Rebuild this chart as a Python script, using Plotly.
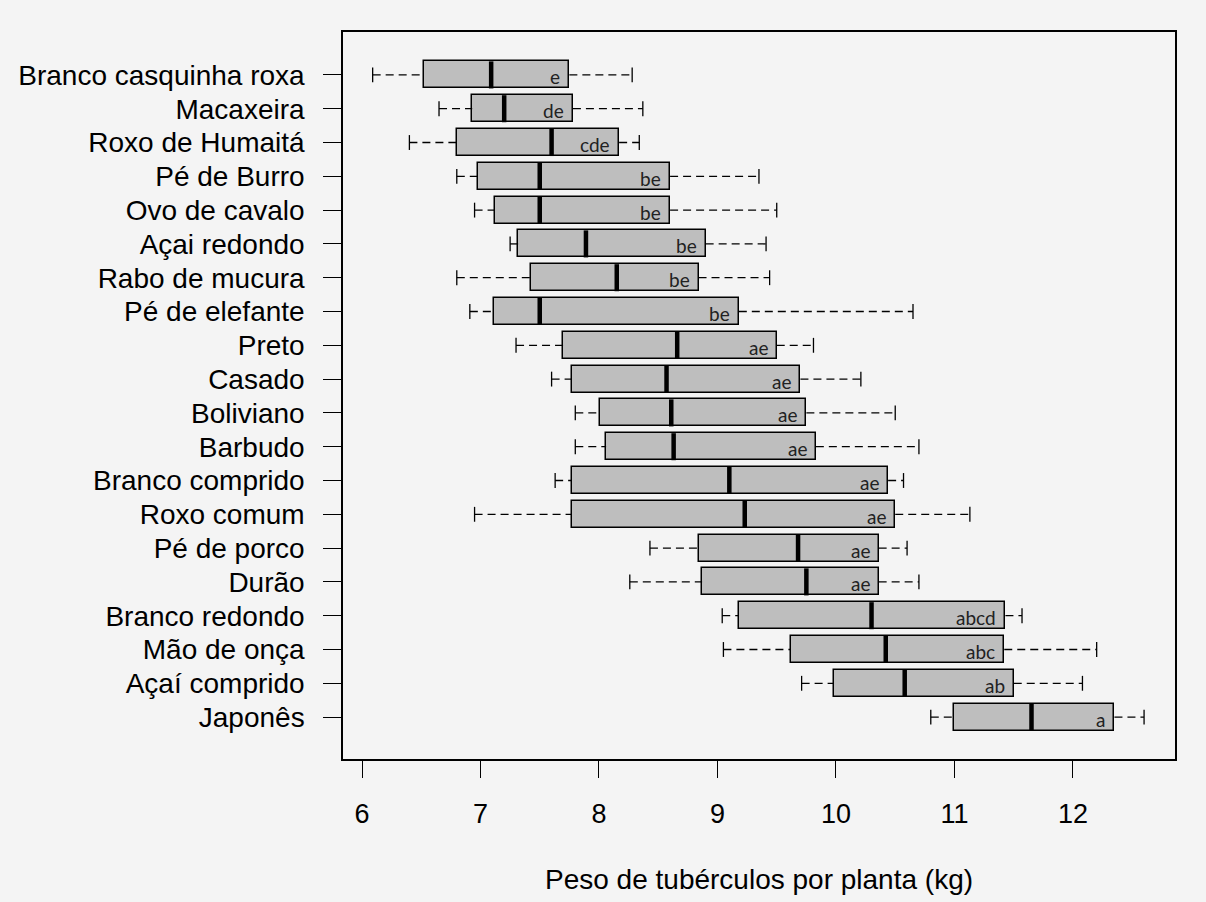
import plotly.graph_objects as go

# Cultivares (de cima para baixo) e resumo de cinco números do peso de tubérculos (kg/planta)
cultivares = [
    "Branco casquinha roxa", "Macaxeira", "Roxo de Humaitá", "Pé de Burro",
    "Ovo de cavalo", "Açai redondo", "Rabo de mucura", "Pé de elefante",
    "Preto", "Casado", "Boliviano", "Barbudo", "Branco comprido", "Roxo comum",
    "Pé de porco", "Durão", "Branco redondo", "Mão de onça", "Açaí comprido",
    "Japonês",
]
minimo = [6.09, 6.65, 6.40, 6.80, 6.95, 7.25, 6.80, 6.91, 7.30, 7.60,
          7.80, 7.80, 7.63, 6.95, 8.43, 8.26, 9.04, 9.05, 9.71, 10.80]
q1 = [6.52, 6.93, 6.80, 6.98, 7.12, 7.32, 7.43, 7.11, 7.70, 7.77,
      8.01, 8.06, 7.77, 7.77, 8.84, 8.87, 9.18, 9.62, 9.98, 11.00]
mediana = [7.09, 7.20, 7.60, 7.50, 7.50, 7.89, 8.15, 7.50, 8.66, 8.57,
           8.61, 8.63, 9.10, 9.23, 9.68, 9.75, 10.30, 10.42, 10.58, 11.65]
q3 = [7.75, 7.78, 8.17, 8.60, 8.60, 8.90, 8.84, 9.18, 9.50, 9.70,
      9.75, 9.83, 10.44, 10.50, 10.36, 10.36, 11.43, 11.42, 11.50, 12.35]
maximo = [8.28, 8.37, 8.34, 9.35, 9.50, 9.41, 9.44, 10.65, 9.81, 10.21,
          10.50, 10.70, 10.57, 11.13, 10.60, 10.70, 11.57, 12.20, 12.08, 12.60]
letras = ["e", "de", "cde", "be", "be", "be", "be", "be", "ae", "ae",
          "ae", "ae", "ae", "ae", "ae", "ae", "abcd", "abc", "ab", "a"]
ticks_x = [6, 7, 8, 9, 10, 11, 12]
titulo_x = "Peso de tubérculos por planta (kg)"

pos = list(range(len(cultivares)))
BOX_W = 0.8
CAP_H = 0.22
FONT = "Liberation Sans, Arial, Helvetica, sans-serif"
BG = "#f4f4f4"

# whiskers (dashed) from the extremes to the box
wx, wy = [], []
for i in pos:
    wx += [minimo[i], q1[i], None, q3[i], maximo[i], None]
    wy += [i, i, None, i, i, None]

# whisker caps
cx, cy = [], []
for i in pos:
    cx += [minimo[i], minimo[i], None, maximo[i], maximo[i], None]
    cy += [i - CAP_H, i + CAP_H, None, i - CAP_H, i + CAP_H, None]

# median bars
mx, my = [], []
for i in pos:
    mx += [mediana[i], mediana[i], None]
    my += [i - BOX_W / 2, i + BOX_W / 2, None]

fig = go.Figure()
fig.add_trace(go.Scatter(x=wx, y=wy, mode="lines", hoverinfo="skip",
                         line=dict(color="black", width=1.3, dash="8px,5px")))
fig.add_trace(go.Scatter(x=cx, y=cy, mode="lines", hoverinfo="skip",
                         line=dict(color="black", width=1.3)))
fig.add_trace(go.Bar(
    y=pos, x=[b - a for a, b in zip(q1, q3)], base=q1, orientation="h",
    width=BOX_W, marker=dict(color="#bebebe", line=dict(color="black", width=1.5)),
))
fig.add_trace(go.Scatter(x=mx, y=my, mode="lines", hoverinfo="skip",
                         line=dict(color="black", width=4.5)))

for i in pos:
    fig.add_annotation(x=q3[i], y=i, text=letras[i], showarrow=False,
                       xanchor="right", yanchor="middle", xshift=-7, yshift=-2,
                       font=dict(family="Lato, Open Sans, sans-serif", size=19,
                                 color="#222222"))

fig.add_annotation(x=0.5, y=-0.1664, xref="paper", yref="paper",
                   text=titulo_x, showarrow=False, xanchor="center",
                   yanchor="middle", font=dict(family=FONT, size=28, color="black"))

fig.update_layout(
    width=1206, height=902,
    margin=dict(l=343, r=31, t=32, b=143),
    paper_bgcolor=BG, plot_bgcolor=BG,
    showlegend=False, bargap=0,
    xaxis=dict(range=[5.8397, 12.861], tickvals=ticks_x, ticks="outside",
               ticklen=17, tickwidth=1.3, tickcolor="black",
               showline=True, mirror=True, linecolor="black", linewidth=1.5,
               showgrid=False, zeroline=False, ticklabelstandoff=13,
               tickfont=dict(family=FONT, size=27, color="black")),
    yaxis=dict(range=[20.24, -1.27], tickvals=pos, ticktext=cultivares,
               ticks="outside", ticklen=18, tickwidth=1.3, tickcolor="black",
               showline=True, mirror=True, linecolor="black", linewidth=1.5,
               showgrid=False, zeroline=False, ticklabelstandoff=13,
               tickfont=dict(family=FONT, size=28, color="black")),
)

fig.write_html("out.html")
